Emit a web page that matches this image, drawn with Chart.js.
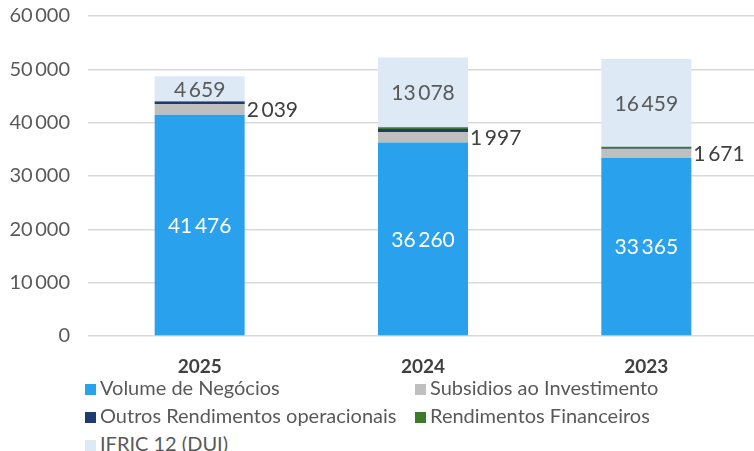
<!DOCTYPE html>
<html>
<head>
<meta charset="utf-8">
<script src="https://cdn.jsdelivr.net/npm/chart.js@4/dist/chart.umd.min.js"></script>
<style>
  body { margin: 0; background: #fff; overflow: hidden; width: 754px; height: 451px; }
  #myChart { position: absolute; left: 0; top: 0; }
  #legend { position: absolute; left: 85px; top: 375px; width: 680px; font-family: Lato, "Liberation Sans", sans-serif; font-size: 20px; line-height: 24px; color: #595959; }
  .item { position: absolute; white-space: nowrap; }
  .box { display: inline-block; width: 11px; height: 11px; margin-right: 4px; vertical-align: 0px; }
</style>
</head>
<body>
<canvas id="myChart" width="758" height="376"></canvas>
<div id="legend"></div>
<script>
// bar chart - stacked revenue by year

let years = ["2025", "2024", "2023"];
let volumeNegocios = [41476, 36260, 33365];
let subsidios = [2039, 1997, 1671];
let outrosRend = [450, 550, 120];
let rendFinanceiros = [60, 350, 330];
let ifric = [4659, 13078, 16459];
let yTicks = [0, 10000, 20000, 30000, 40000, 50000, 60000];

function fmt(v) {
    return String(Math.round(v)).replace(/\B(?=(\d{3})+(?!\d))/g, "\u2009");
}

const FONT = "Lato, 'Liberation Sans', sans-serif";

// labels: which dataset gets labels and where
const labelPlugin = {
    id: "barLabels",
    afterDatasetsDraw(chart) {
        const ctx = chart.ctx;
        ctx.save();
        ctx.font = "21px " + FONT;
        chart.data.datasets.forEach((ds, i) => {
            if (!ds.showLabel) return;
            const meta = chart.getDatasetMeta(i);
            meta.data.forEach((bar, j) => {
                const p = bar.getProps(["x", "y", "base", "width"], true);
                const cy = (p.y + p.base) / 2;
                ctx.fillStyle = ds.labelColor;
                ctx.textBaseline = "middle";
                if (ds.showLabel === "outside") {
                    ctx.textAlign = "left";
                    ctx.fillText(fmt(ds.data[j]), p.x + p.width / 2 + 2, cy + 1);
                } else {
                    ctx.textAlign = "center";
                    ctx.fillText(fmt(ds.data[j]), p.x, cy + 1);
                }
            });
        });
        ctx.restore();
    }
};

const chartData = {
    type: "bar",
    data: {
        labels: years,
        datasets: [
            { label: "Volume de Negócios", data: volumeNegocios, backgroundColor: "#29a1ec", showLabel: "inside", labelColor: "#ffffff" },
            { label: "Subsidios ao Investimento", data: subsidios, backgroundColor: "#bfbfbf", showLabel: "outside", labelColor: "#404040" },
            { label: "Outros Rendimentos operacionais", data: outrosRend, backgroundColor: "#1f3a6e" },
            { label: "Rendimentos Financeiros", data: rendFinanceiros, backgroundColor: "#3f7a2c" },
            { label: "IFRIC 12 (DUI)", data: ifric, backgroundColor: "#dde9f5", showLabel: "inside", labelColor: "#595959" }
        ]
    },
    options: {
        responsive: false,
        animation: false,
        layout: { padding: { top: 16, right: 0, left: 0, bottom: 0 } },
        datasets: {
            bar: { categoryPercentage: 1, barPercentage: 0.403 }
        },
        plugins: {
            legend: { display: false },
            tooltip: { enabled: false }
        },
        scales: {
            x: {
                stacked: true,
                grid: { display: false, drawTicks: false },
                border: { display: false },
                afterFit: (axis) => { axis.height = 40; },
                ticks: { color: "#404040", font: { family: FONT, size: 19, weight: "bold" }, padding: 19 }
            },
            y: {
                stacked: true,
                min: 0,
                max: 60000,
                afterBuildTicks: (axis) => { axis.ticks = yTicks.map(v => ({ value: v })); },
                afterFit: (axis) => { axis.width = 88; },
                grid: { color: "#d9d9d9", lineWidth: 1.5, drawTicks: true, tickLength: 18, tickColor: "rgba(0,0,0,0)" },
                border: { display: false },
                ticks: {
                    color: "#595959",
                    font: { family: FONT, size: 20 },
                    padding: 0,
                    callback: (v) => fmt(v)
                }
            }
        }
    },
    plugins: [labelPlugin]
};

let barChart = new Chart("myChart", chartData);

// legend in two columns
let legendPos = [[0, 0], [330, 0], [0, 28], [330, 28], [0, 56]];
let legendBox = document.getElementById("legend");
chartData.data.datasets.forEach((ds, i) => {
    let el = document.createElement("div");
    el.className = "item";
    el.style.left = legendPos[i][0] + "px";
    el.style.top = legendPos[i][1] + "px";
    el.innerHTML = '<span class="box" style="background:' + ds.backgroundColor + '"></span>' + ds.label;
    legendBox.appendChild(el);
});
</script>
</body>
</html>
